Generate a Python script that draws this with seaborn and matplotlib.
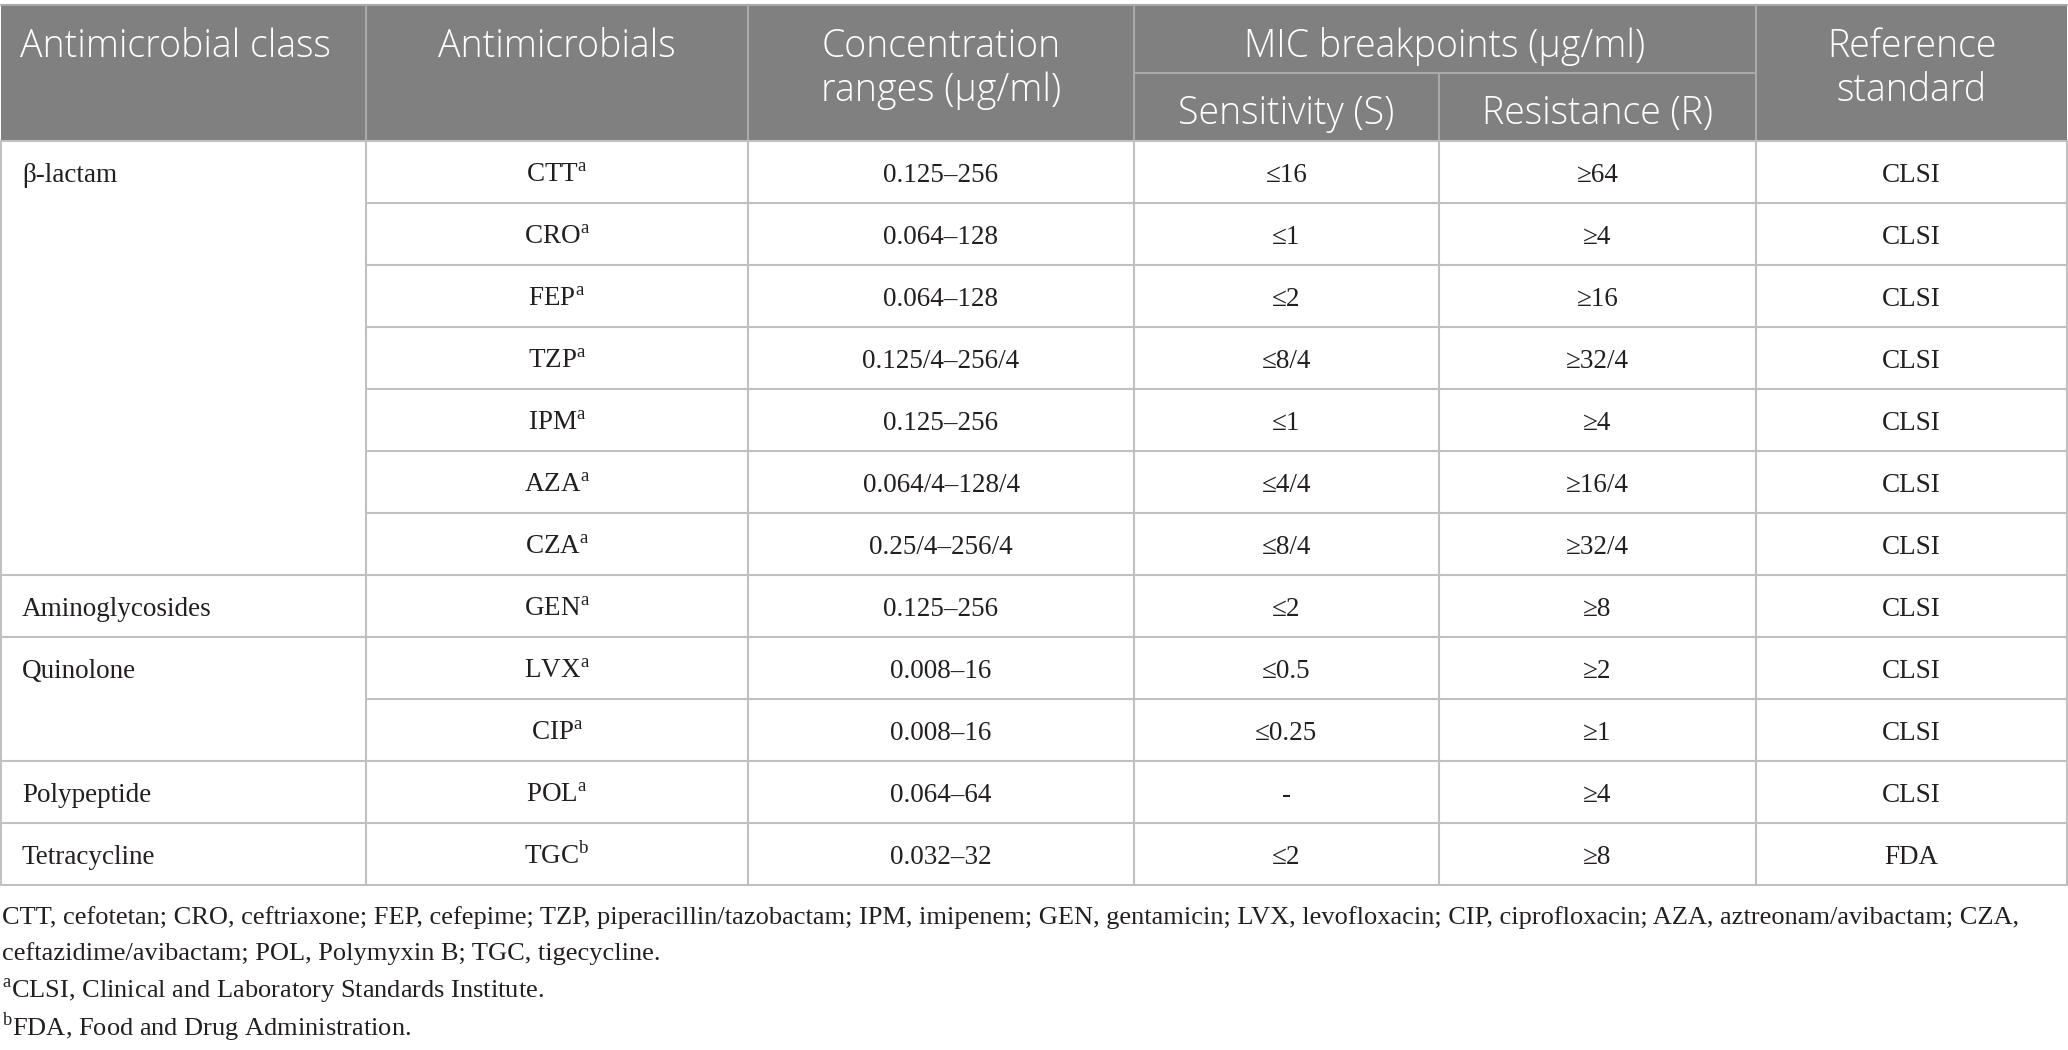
import matplotlib
matplotlib.use("Agg")
import matplotlib.pyplot as plt
import seaborn as sns
from matplotlib.patches import Rectangle

# table content
classes = ["β-lactam", "Aminoglycosides", "Quinolone", "Polypeptide", "Tetracycline"]
class_spans = [7, 1, 2, 1, 1]
drugs = ["CTT", "CRO", "FEP", "TZP", "IPM", "AZA", "CZA", "GEN", "LVX", "CIP", "POL", "TGC"]
drug_notes = ["a", "a", "a", "a", "a", "a", "a", "a", "a", "a", "a", "b"]
conc_ranges = ["0.125–256", "0.064–128", "0.064–128", "0.125/4–256/4", "0.125–256",
               "0.064/4–128/4", "0.25/4–256/4", "0.125–256", "0.008–16", "0.008–16",
               "0.064–64", "0.032–32"]
sens = ["≤16", "≤1", "≤2", "≤8/4", "≤1", "≤4/4", "≤8/4", "≤2", "≤0.5", "≤0.25", "-", "≤2"]
res = ["≥64", "≥4", "≥16", "≥32/4", "≥4", "≥16/4", "≥32/4", "≥8", "≥2", "≥1", "≥4", "≥8"]
ref_std = ["CLSI"] * 11 + ["FDA"]

footnotes = [
    "CTT, cefotetan; CRO, ceftriaxone; FEP, cefepime; TZP, piperacillin/tazobactam; IPM, imipenem; "
    "GEN, gentamicin; LVX, levofloxacin; CIP, ciprofloxacin; AZA, aztreonam/avibactam; CZA,",
    "ceftazidime/avibactam; POL, Polymyxin B; TGC, tigecycline.",
    r"$^{\mathrm{a}}$CLSI, Clinical and Laboratory Standards Institute.",
    r"$^{\mathrm{b}}$FDA, Food and Drug Administration.",
]

# layout (pixels)
W, H = 2068, 1050
col_x = [1, 366, 748, 1134, 1439, 1756, 2067]
top, mid, hbot = 5, 73, 141
row_h = 62
n_rows = len(drugs)
row_y = [hbot + i * row_h for i in range(n_rows + 1)]

head_col = "#808080"
head_line = "#a9a9a9"
grid_col = "#c0c0c0"
txt_col = "#231f20"

sns.set_theme(style="white")
plt.rcParams["font.family"] = ["Liberation Serif", "DejaVu Serif"]
plt.rcParams["mathtext.fontset"] = "custom"
plt.rcParams["mathtext.rm"] = "Liberation Serif"

fig = plt.figure(figsize=(W / 100, H / 100), dpi=100)
ax = fig.add_axes([0, 0, 1, 1])
ax.set_xlim(0, W)
ax.set_ylim(H, 0)
ax.axis("off")

# header block
ax.add_patch(Rectangle((col_x[0], top), col_x[-1] - col_x[0], hbot - top,
                       facecolor=head_col, edgecolor="none"))
for x in col_x[1:-1]:
    if x == 1439:
        ax.plot([x, x], [mid, hbot], color=head_line, lw=1.5)
    else:
        ax.plot([x, x], [top, hbot], color=head_line, lw=1.5)
ax.plot([1134, 1756], [mid, mid], color=head_line, lw=1.5)
ax.plot([col_x[0], col_x[-1]], [top, top], color=head_line, lw=1.5)

hfont = dict(family=["Open Sans", "DejaVu Sans"], fontsize=27, color="white", fontweight="light")
b1, b2, bs = 57, 101, 124
ax.text(20, b1, "Antimicrobial class", ha="left", va="baseline", **hfont)
ax.text((col_x[1] + col_x[2]) / 2, b1, "Antimicrobials", ha="center", va="baseline", **hfont)
ax.text((col_x[2] + col_x[3]) / 2, b1, "Concentration", ha="center", va="baseline", **hfont)
ax.text((col_x[2] + col_x[3]) / 2, b2, "ranges (μg/ml)", ha="center", va="baseline", **hfont)
ax.text((col_x[3] + col_x[5]) / 2, b1, "MIC breakpoints (μg/ml)", ha="center", va="baseline", **hfont)
ax.text((col_x[3] + col_x[4]) / 2, bs, "Sensitivity (S)", ha="center", va="baseline", **hfont)
ax.text((col_x[4] + col_x[5]) / 2, bs, "Resistance (R)", ha="center", va="baseline", **hfont)
ax.text((col_x[5] + col_x[6]) / 2, b1, "Reference", ha="center", va="baseline", **hfont)
ax.text((col_x[5] + col_x[6]) / 2, b2, "standard", ha="center", va="baseline", **hfont)

# body grid
for x in col_x:
    ax.plot([x, x], [hbot, row_y[-1]], color=grid_col, lw=1.5)
class_starts = [sum(class_spans[:i]) for i in range(len(class_spans) + 1)]
for i, y in enumerate(row_y):
    x0 = col_x[0] if i in class_starts else col_x[1]
    ax.plot([x0, col_x[-1]], [y, y], color=grid_col, lw=1.5)

bfont = dict(fontsize=19.5, color=txt_col)
for c, start in zip(classes, class_starts[:-1]):
    yc = (row_y[start] + row_y[start + 1]) / 2
    ax.text(22, yc + 10, c, ha="left", va="baseline", **bfont)

cols = [
    [d + r"$^{\mathrm{" + n + "}}$" for d, n in zip(drugs, drug_notes)],
    conc_ranges, sens, res, ref_std,
]
for j, values in enumerate(cols):
    xc = (col_x[j + 1] + col_x[j + 2]) / 2
    for i, v in enumerate(values):
        yc = (row_y[i] + row_y[i + 1]) / 2
        ax.text(xc, yc + 10, v, ha="center", va="baseline", **bfont)

# footnotes, sized so the first line ends where the reference wraps
notes = []
for line, yb in zip(footnotes, [924, 960, 998, 1036]):
    notes.append(ax.text(2, yb, line, ha="left", va="baseline", fontsize=19.5, color=txt_col))
fig.canvas.draw()
w0 = notes[0].get_window_extent().width
fs = 19.5 * 2020 / w0
for t in notes:
    t.set_fontsize(fs)

fig.savefig("out.png", dpi=100, facecolor="white")
